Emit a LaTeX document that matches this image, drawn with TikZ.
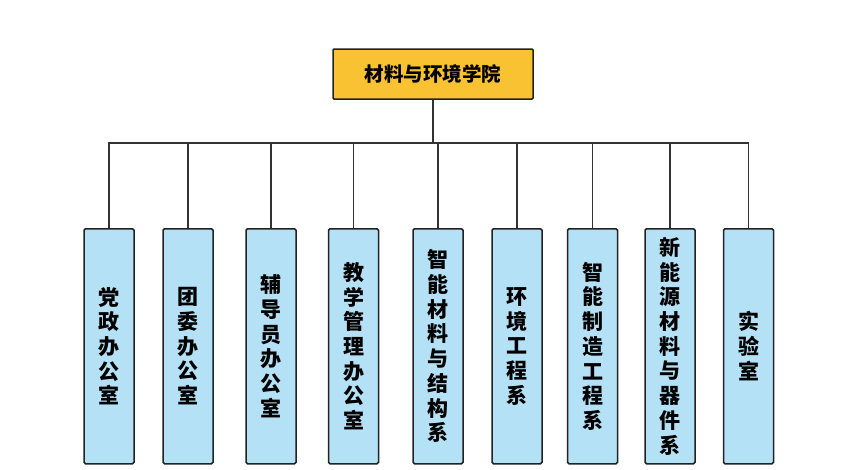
\documentclass[tikz,border=0pt]{standalone}
\usepackage{fontspec}
\newfontfamily\cjk{Noto Sans CJK SC}
\definecolor{titlefill}{HTML}{F8C232}
\definecolor{boxfill}{HTML}{B5E1F6}
\definecolor{edge}{HTML}{222222}
\definecolor{wire}{HTML}{333333}
\tikzset{
  titlebox/.style={draw=edge, fill=titlefill, line width=1.5pt, rounded corners=1pt,
    minimum width=200pt, minimum height=50pt, inner sep=0pt,
    font=\cjk\bfseries\fontsize{19.5}{22}\selectfont},
  unitbox/.style={draw=edge, fill=boxfill, line width=1.5pt, rounded corners=1.5pt,
    minimum width=50pt, minimum height=235pt, inner sep=0pt, anchor=north,
    align=center, font=\cjk\bfseries\fontsize{21}{24.7}\selectfont},
  wireline/.style={draw=wire, line width=1.2pt}
}
\begin{document}
\begin{tikzpicture}[x=1pt,y=-1pt]
\useasboundingbox (0,0) rectangle (860,469);
\fill[white] (0,0) rectangle (860,469);
\node[titlebox] (top) at (433,74) {材料与环境学院};
\coordinate (bar) at (0,143);
\node[unitbox] (b1) at (109,228) {党\\政\\办\\公\\室};
\node[unitbox] (b2) at (188,228) {团\\委\\办\\公\\室};
\node[unitbox] (b3) at (271,228) {辅\\导\\员\\办\\公\\室};
\node[unitbox] (b4) at (353.5,228) {教\\学\\管\\理\\办\\公\\室};
\node[unitbox] (b5) at (438,228) {智\\能\\材\\料\\与\\结\\构\\系};
\node[unitbox] (b6) at (517,228) {环\\境\\工\\程\\系};
\node[unitbox] (b7) at (592.5,228) {智\\能\\制\\造\\工\\程\\系};
\node[unitbox] (b8) at (670,228) {新\\能\\源\\材\\料\\与\\器\\件\\系};
\node[unitbox] (b9) at (748.5,228) {实\\验\\室};
\draw[wireline] (top.south) -- (top.south |- bar);
\draw[wireline] (b1.north) -- (b1.north |- bar) -- (b9.north |- bar) -- (b9.north);
\foreach \n in {b2,b3,b4,b5,b6,b7,b8}{
  \draw[wireline] (\n.north) -- (\n.north |- bar);
}
\end{tikzpicture}
\end{document}
